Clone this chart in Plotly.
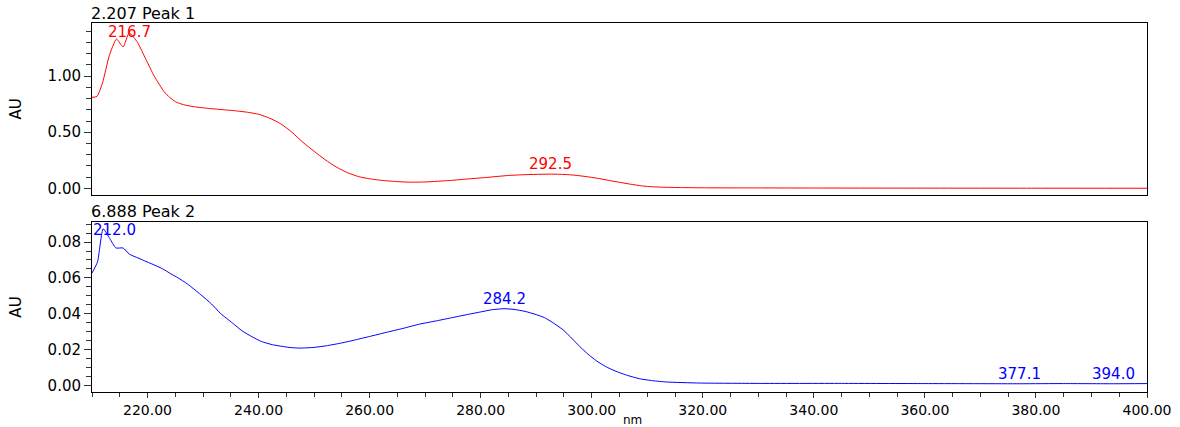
import numpy as np
import plotly.graph_objects as go
from plotly.subplots import make_subplots

# ---- data ----
nm_1 = [210.0, 210.9, 211.9, 213.1, 214.4, 215.6, 216.7, 218.2, 219.7, 221.2, 223.0, 224.0, 225.1,
        226.5, 228.4, 231.0, 233.8, 236.0, 238.0, 240.0, 242.0, 244.0, 246.0, 248.0, 250.0,
        252.0, 254.0, 256.0, 258.0, 260.0, 262.4, 265.0, 267.2, 270.0, 274.4, 278.0, 281.0,
        285.0, 288.0, 292.5, 295.0, 297.0, 299.0, 301.0, 303.0, 305.0, 307.0, 309.0, 311.0, 313.0,
        316.0, 320.0, 330.0, 340.0, 360.0, 380.0, 400.0]
au_1 = [0.81, 0.82, 0.94, 1.18, 1.33, 1.26, 1.385, 1.30, 1.15, 1.00, 0.86, 0.81, 0.77,
        0.745, 0.727, 0.712, 0.70, 0.69, 0.678, 0.66, 0.625, 0.575, 0.50, 0.41, 0.33,
        0.255, 0.19, 0.14, 0.105, 0.085, 0.07, 0.06, 0.055, 0.057, 0.07, 0.085, 0.097,
        0.115, 0.122, 0.127, 0.124, 0.117, 0.105, 0.09, 0.072, 0.054, 0.037, 0.022, 0.014, 0.010,
        0.007, 0.005, 0.004, 0.003, 0.002, 0.0015, 0.001]

nm_2 = [210.0, 211.0, 212.0, 213.2, 214.3, 215.6, 216.7, 218.0, 219.4, 221.0, 222.7, 224.2, 225.5,
        227.2, 229.6, 231.5, 233.2, 235.3, 237.0, 238.9, 240.5, 242.5, 245.5, 247.4, 250.0, 252.2,
        255.0, 257.0, 260.0, 263.0, 266.0, 269.0, 272.0, 275.0, 278.0, 280.0, 282.0, 284.2, 286.0,
        288.0, 290.0, 291.5, 293.0, 294.8, 296.5, 297.8, 299.3, 300.8, 302.5, 304.4, 306.5, 308.6,
        311.0, 313.4, 319.4, 330.0, 345.0, 360.0, 377.1, 385.0, 394.0, 400.0]
au_2 = [0.0627, 0.069, 0.0874, 0.082, 0.0767, 0.0767, 0.0733, 0.0715, 0.0696, 0.0675, 0.0651, 0.0623, 0.060,
        0.0566, 0.0506, 0.0455, 0.040, 0.0348, 0.0305, 0.027, 0.0245, 0.0227, 0.0212, 0.0208, 0.0212, 0.0221,
        0.0237, 0.0251, 0.0273, 0.0296, 0.0318, 0.0342, 0.036, 0.0379, 0.0398, 0.041, 0.0422, 0.0428, 0.0424,
        0.0413, 0.0395, 0.0378, 0.035, 0.0311, 0.026, 0.0218, 0.0175, 0.0138, 0.0105, 0.0078, 0.0055, 0.0037,
        0.0026, 0.0019, 0.0013, 0.0011, 0.0011, 0.0010, 0.0009, 0.0010, 0.0009, 0.0010]

peaks_1 = [216.7, 292.5]
peaks_2 = [212.0, 284.2, 377.1, 394.0]
title_1 = "2.207 Peak 1"
title_2 = "6.888 Peak 2"
x_title = "nm"
y_title = "AU"

FONT = "DejaVu Sans"
RED = "#ff0000"
BLUE = "#0000ff"
AX = "#000000"
TK = "#333333"
FS = 15

fig = make_subplots(rows=2, cols=1, shared_xaxes=False, vertical_spacing=0.0)

fig.add_trace(go.Scatter(x=nm_1, y=au_1, mode="lines",
                         line=dict(color=RED, width=1, shape="spline", smoothing=0.5),
                         showlegend=False, hoverinfo="skip"), row=1, col=1)
fig.add_trace(go.Scatter(x=nm_2, y=au_2, mode="lines",
                         line=dict(color=BLUE, width=1, shape="spline", smoothing=0.5),
                         showlegend=False, hoverinfo="skip"), row=2, col=1)

annotations = []
for p in peaks_1:
    y = float(np.interp(p, nm_1, au_1))
    annotations.append(dict(x=p, y=y, xref="x", yref="y", text=f"{p:.1f}", showarrow=False,
                            xanchor="center", yanchor="bottom", yshift=-10 if p < 250 else -1,
                            font=dict(family=FONT, size=FS, color=RED)))
for p in peaks_2:
    y = float(np.interp(p, nm_2, au_2))
    if p < 215:
        annotations.append(dict(x=p, y=y, xref="x2", yref="y2", text=f"{p:.1f}", showarrow=False,
                                xanchor="left", yanchor="bottom", xshift=-12, yshift=-12,
                                font=dict(family=FONT, size=FS, color=BLUE)))
    else:
        annotations.append(dict(x=p, y=y, xref="x2", yref="y2", text=f"{p:.1f}", showarrow=False,
                                xanchor="center", yanchor="bottom", yshift=-1,
                                font=dict(family=FONT, size=FS, color=BLUE)))

annotations.append(dict(x=0, y=1, xref="x domain", yref="y domain", text=title_1, showarrow=False,
                        xanchor="left", yanchor="bottom", xshift=-3, yshift=-2,
                        font=dict(family=FONT, size=16, color="#000")))
annotations.append(dict(x=0, y=1, xref="x2 domain", yref="y2 domain", text=title_2, showarrow=False,
                        xanchor="left", yanchor="bottom", xshift=-3, yshift=-1,
                        font=dict(family=FONT, size=16, color="#000")))
annotations.append(dict(x=0.5, y=0, xref="x2 domain", yref="y2 domain", text=x_title, showarrow=False,
                        xanchor="left", yanchor="top", xshift=1, yshift=-19,
                        font=dict(family=FONT, size=12, color="#000")))

fig.update_layout(
    width=1180, height=427,
    margin=dict(l=92, r=33, t=23, b=35, autoexpand=False),
    paper_bgcolor="white", plot_bgcolor="white",
    font=dict(family=FONT, size=FS, color="#000"),
    annotations=annotations,
)

xcommon = dict(range=[210, 400], showline=True, linecolor=AX, linewidth=1, mirror=True,
               showgrid=False, zeroline=False, automargin=False)
fig.update_xaxes(**xcommon, showticklabels=False, ticks="", row=1, col=1)
fig.update_xaxes(**xcommon, tickmode="linear", tick0=220, dtick=20, tickformat=".2f",
                 ticks="outside", ticklen=5, tickcolor=TK, tickwidth=1,
                 tickfont=dict(family=FONT, size=14),
                 minor=dict(tickmode="linear", tick0=210, dtick=5, ticks="outside", ticklen=4,
                            tickcolor=TK, tickwidth=1),
                 row=2, col=1)

ycommon = dict(showline=True, linecolor=AX, linewidth=1, mirror=True, showgrid=False, zeroline=False,
               automargin=False,
               ticks="outside", ticklen=7, tickcolor=TK, tickwidth=1, tickformat=".2f",
               tickfont=dict(family=FONT, size=FS),
               title=dict(text=y_title, font=dict(family=FONT, size=15), standoff=22))
fig.update_yaxes(**ycommon, range=[-0.059, 1.473], tickmode="linear", tick0=0, dtick=0.5,
                 minor=dict(tickmode="linear", tick0=0, dtick=0.1, ticks="outside", ticklen=5,
                            tickcolor=TK, tickwidth=1),
                 domain=[0.5339, 1.0], row=1, col=1)
fig.update_yaxes(**ycommon, range=[-0.0037, 0.0912], tickmode="linear", tick0=0, dtick=0.02,
                 minor=dict(tickmode="linear", tick0=0, dtick=0.005, ticks="outside", ticklen=5,
                            tickcolor=TK, tickwidth=1),
                 domain=[0.0, 0.4607], row=2, col=1)

fig.write_html("out.html")
